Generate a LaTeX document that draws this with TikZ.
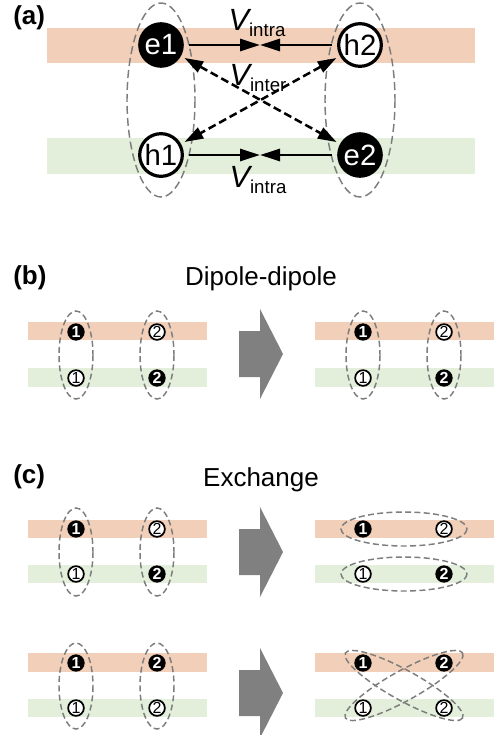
\documentclass[tikz,border=0pt]{standalone}
\usepackage{fontspec}
\setmainfont{Liberation Sans}
\usetikzlibrary{arrows.meta}
\definecolor{bandorange}{RGB}{241,207,184}
\definecolor{bandgreen}{RGB}{227,239,219}
\definecolor{ringgray}{RGB}{125,125,125}
\definecolor{arrowgray}{RGB}{128,128,128}
\newcommand{\Vsub}[1]{{\fontsize{23}{23}\selectfont\itshape V}\raisebox{-4.5pt}{\fontsize{14}{14}\selectfont #1}}

\begin{document}
\begin{tikzpicture}[x=0.75pt, y=-0.75pt,
    ecirc/.style={circle, fill=black, draw=black, line width=2.2pt, text=white, minimum size=32pt, inner sep=0pt, font=\fontsize{22}{22}\selectfont},
    hcirc/.style={circle, fill=white, draw=black, line width=2.4pt, text=black, minimum size=32pt, inner sep=0pt, font=\fontsize{22}{22}\selectfont},
    fullnum/.style={circle, fill=black, text=white, minimum size=13pt, inner sep=0pt, font=\fontsize{12}{12}\selectfont\bfseries},
    opennum/.style={circle, fill=white, draw=black, line width=1.3pt, text=black, minimum size=11.8pt, inner sep=0pt, font=\fontsize{12}{12}\selectfont},
    ring/.style={draw=ringgray, line width=1.1pt, dash pattern=on 6pt off 3pt},
    smallring/.style={draw=ringgray, line width=1.1pt, dash pattern=on 4.5pt off 2.5pt},
    intra/.style={line width=2.2pt, -{Triangle[length=15pt, width=9pt]}, shorten <=4pt},
    inter/.style={line width=1.9pt, {Triangle[length=14pt, width=9pt]}-{Triangle[length=14pt, width=9pt]}, dash pattern=on 6pt off 3pt, shorten <=3pt, shorten >=3pt},
    vlab/.style={anchor=base, inner sep=0pt},
    panel/.style={anchor=base west, inner sep=0pt, font=\fontsize{19.5}{19.5}\selectfont\bfseries},
    title/.style={anchor=base, inner sep=0pt, font=\fontsize{19.5}{19.5}\selectfont}]
    \useasboundingbox (0,0) rectangle (493,735);

    % (a) electron-hole pairs
    \node[panel] (labela) at (13,25) {(a)};
    \fill[bandorange] (47,28) rectangle (475,63); % upper band
    \fill[bandgreen] (47,138) rectangle (475,174); % lower band
    \draw[ring] (161,100) ellipse [x radius=34, y radius=97]; % left pair
    \draw[ring] (360,100) ellipse [x radius=35, y radius=97]; % right pair

    \node[ecirc] (e1) at (161,45) {e1};
    \node[hcirc] (h2) at (360,45) {h2};
    \node[hcirc] (h1) at (161,155) {h1};
    \node[ecirc] (e2) at (360,155) {e2};

    \coordinate (topmid) at (260,45);
    \coordinate (botmid) at (260,155);
    \draw[intra] (e1) -- (topmid);
    \draw[intra] (h2) -- (topmid);
    \draw[intra] (h1) -- (botmid);
    \draw[intra] (e2) -- (botmid);
    \draw[inter] (e1) -- (e2);
    \draw[inter] (h2) -- (h1);

    \node[vlab] (vtop) at (257,31) {\Vsub{intra}};
    \node[vlab] (vmid) at (258,85) {\Vsub{inter}};
    \node[vlab] (vbot) at (258,187) {\Vsub{intra}};

    % (b) dipole-dipole
    \node[panel] (labelb) at (13,284) {(b)};
    \node[title] (titleb) at (261,285) {Dipole-dipole};
    \foreach \p/\dx in {l/0, r/287} {
        \fill[bandorange] (28+\dx,322) rectangle (207+\dx,340);
        \fill[bandgreen] (28+\dx,368) rectangle (207+\dx,387);
        \draw[smallring] (76+\dx,355) ellipse [x radius=17, y radius=44];
        \draw[smallring] (157+\dx,355) ellipse [x radius=17, y radius=44];
        \node[fullnum] (b\p1) at (76+\dx,332) {1};
        \node[opennum] (b\p2) at (157+\dx,332) {2};
        \node[opennum] (b\p3) at (76+\dx,378) {1};
        \node[fullnum] (b\p4) at (157+\dx,378) {2};
    }

    % (c) exchange
    \node[panel] (labelc) at (13,483) {(c)};
    \node[title] (titlec) at (261,486) {Exchange};
    \foreach \dx in {0, 287} {
        \fill[bandorange] (28+\dx,520) rectangle (207+\dx,538);
        \fill[bandgreen] (28+\dx,565) rectangle (207+\dx,583);
        \fill[bandorange] (28+\dx,653) rectangle (207+\dx,672);
        \fill[bandgreen] (28+\dx,699) rectangle (207+\dx,717);
    }
    \draw[smallring] (76,552) ellipse [x radius=17, y radius=44];
    \draw[smallring] (157,552) ellipse [x radius=17, y radius=44];
    \draw[smallring] (404,529) ellipse [x radius=63, y radius=17]; % upper band pair
    \draw[smallring] (404,574) ellipse [x radius=63, y radius=17]; % lower band pair
    \draw[smallring] (76,686) ellipse [x radius=17, y radius=43];
    \draw[smallring] (157,686) ellipse [x radius=17, y radius=43];
    \draw[smallring, rotate around={-29:(404,685.5)}] (404,685.5) ellipse [x radius=67, y radius=15];
    \draw[smallring, rotate around={29:(404,685.5)}] (404,685.5) ellipse [x radius=67, y radius=15];

    \foreach \p/\dx in {l/0, r/287} {
        \node[fullnum] (c\p1) at (76+\dx,529) {1};
        \node[opennum] (c\p2) at (157+\dx,529) {2};
        \node[opennum] (c\p3) at (76+\dx,574) {1};
        \node[fullnum] (c\p4) at (157+\dx,574) {2};
        \node[fullnum] (d\p1) at (76+\dx,663) {1};
        \node[fullnum] (d\p2) at (157+\dx,663) {2};
        \node[opennum] (d\p3) at (76+\dx,708) {1};
        \node[opennum] (d\p4) at (157+\dx,708) {2};
    }

    % big grey arrows
    \foreach \yc in {354, 552, 693} {
        \fill[arrowgray] (239,\yc-23) -- (260,\yc-23) -- (260,\yc-45) -- (283,\yc)
            -- (260,\yc+45) -- (260,\yc+23) -- (239,\yc+23) -- cycle;
    }
\end{tikzpicture}
\end{document}
